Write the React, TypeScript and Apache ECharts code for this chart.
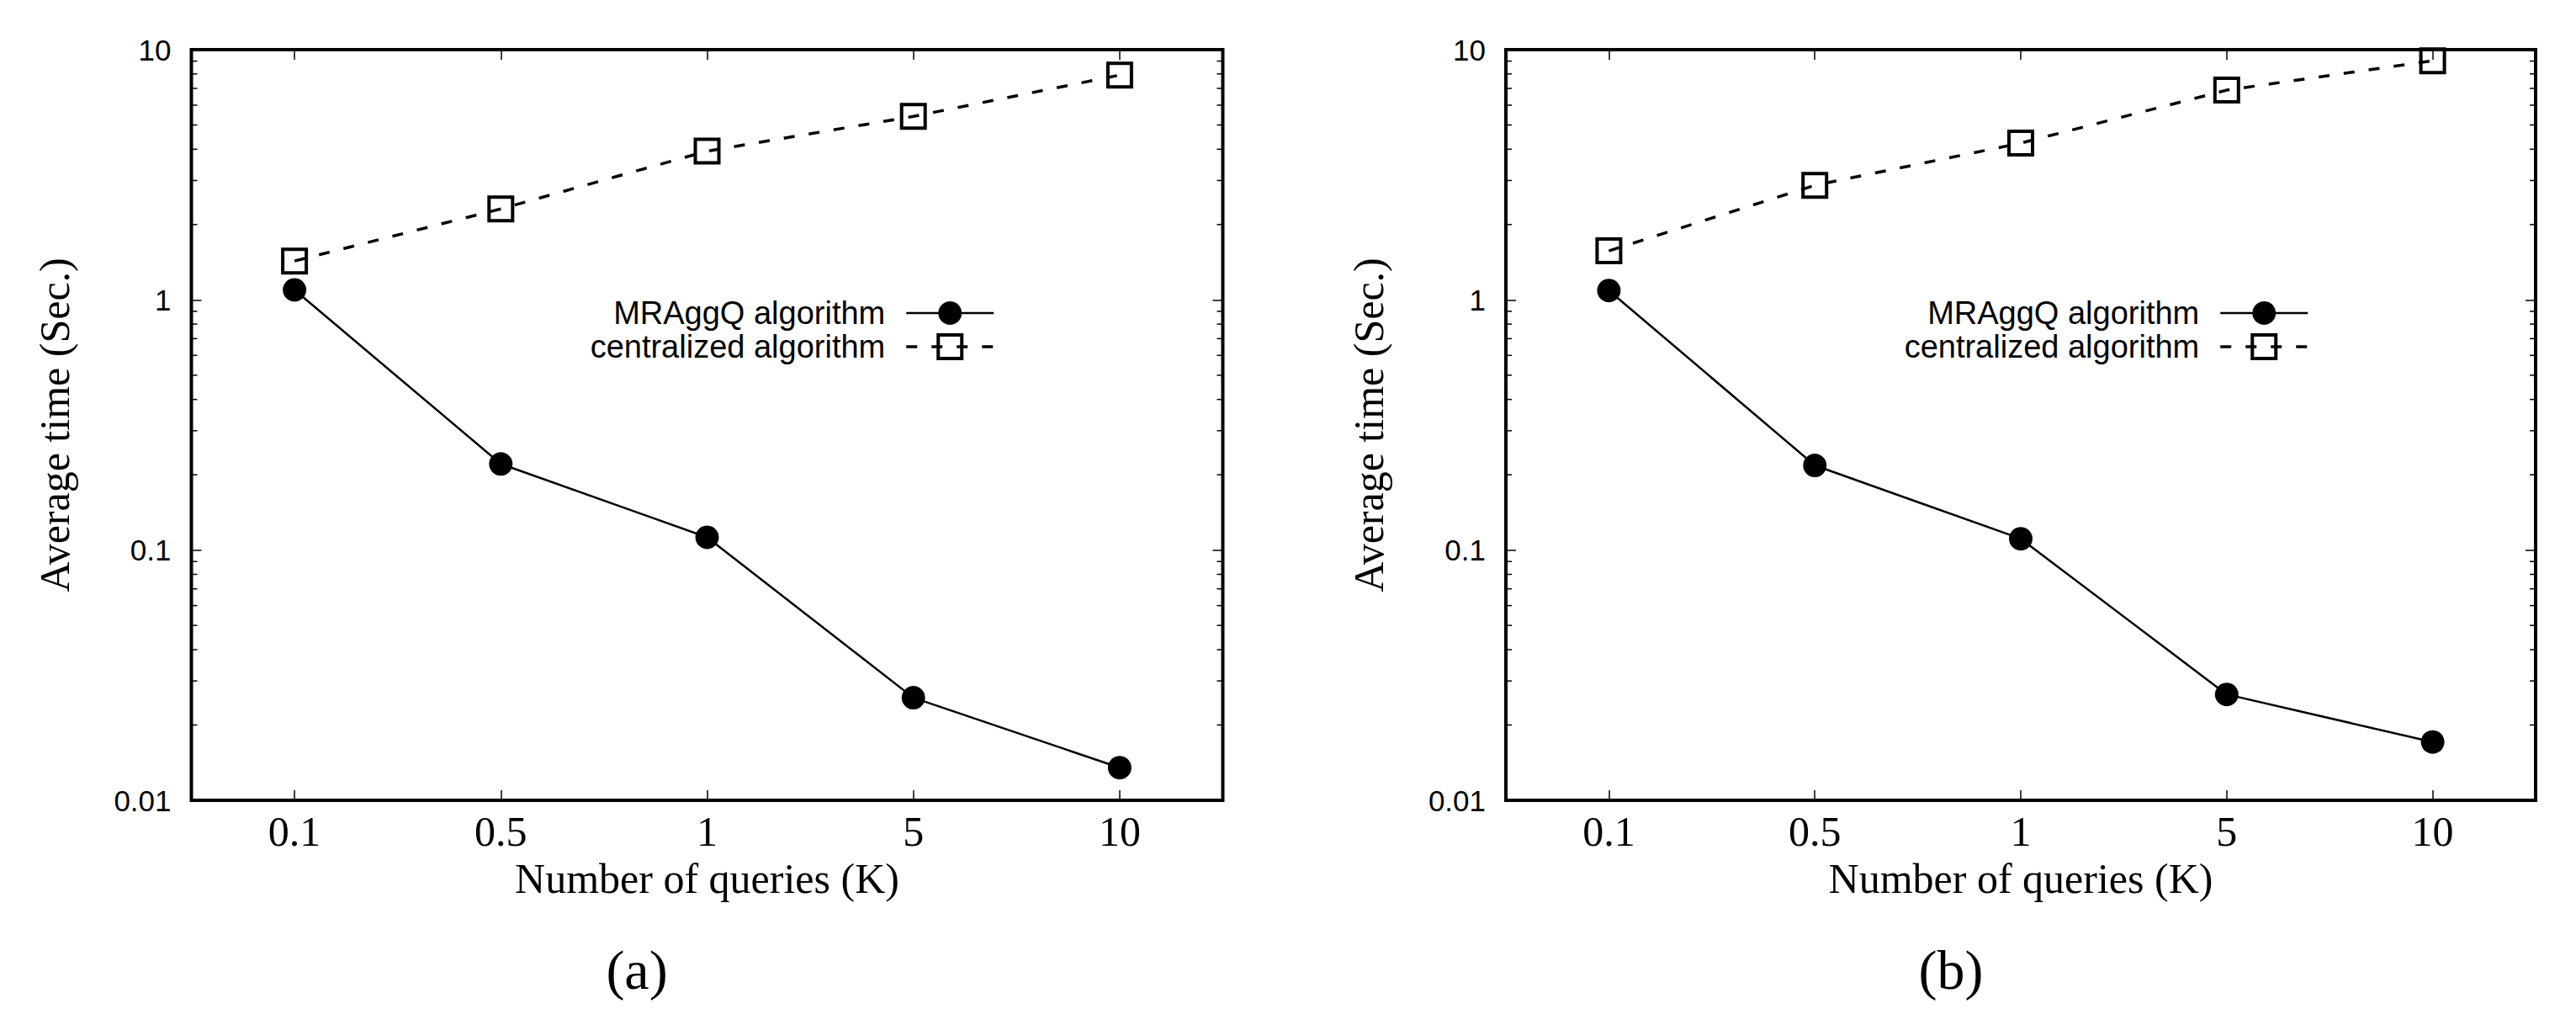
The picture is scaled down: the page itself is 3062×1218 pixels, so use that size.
import React, { useEffect, useRef } from "react";
import * as echarts from "echarts";

const categories = ["0.1", "0.5", "1", "5", "10"];
const mraggA = [1.096, 0.221, 0.1125, 0.0257, 0.0135];
const centralA = [1.43, 2.31, 3.93, 5.41, 7.91];
const mraggB = [1.09, 0.218, 0.111, 0.0265, 0.0171];
const centralB = [1.57, 2.87, 4.23, 6.89, 9.03];
const yTickLabels = ["0.01", "0.1", "1", "10"];
const minorTickValues = [
  0.02, 0.03, 0.04, 0.05, 0.06, 0.07, 0.08, 0.09,
  0.2, 0.3, 0.4, 0.5, 0.6, 0.7, 0.8, 0.9,
  2, 3, 4, 5, 6, 7, 8, 9,
];
const seriesNames = ["MRAggQ algorithm", "centralized algorithm"];
const captions = ["(a)", "(b)"];
const xTitle = "Number of queries (K)";
const yTitle = "Average time (Sec.)";

const W = 3062;
const H = 1218;
const serif = "'Liberation Serif', 'Times New Roman', serif";
const sans = "'Liberation Sans', Arial, sans-serif";

export default function App() {
  const ref = useRef<HTMLDivElement>(null);
  useEffect(() => {
    document.body.style.margin = "0";
    const chart = echarts.init(ref.current!, null, { renderer: "svg" });
    const gridDefs = [
      { left: 227.5, top: 59, width: 1226, height: 892 },
      { left: 1790, top: 59, width: 1224, height: 892 },
    ];
    const datasets = [
      [mraggA, centralA],
      [mraggB, centralB],
    ];
    const legendRight = [1188, 2750];
    const captionX = [757, 2319];

    const tick = { show: true, inside: true, alignWithLabel: true, length: 12, lineStyle: { color: "#000", width: 1.5 } };
    const xAxes: any[] = [];
    const yAxes: any[] = [];
    const series: any[] = [];
    const legends: any[] = [];
    const graphics: any[] = [];

    gridDefs.forEach((g, i) => {
      xAxes.push({
        type: "category", gridIndex: i, data: categories, boundaryGap: true, position: "bottom",
        axisLine: { show: false }, axisTick: tick,
        axisLabel: { fontFamily: serif, fontSize: 50, color: "#000", margin: 12 },
        name: xTitle, nameLocation: "middle", nameGap: 68,
        nameTextStyle: { fontFamily: serif, fontSize: 50, color: "#000" },
      });
      xAxes.push({
        type: "category", gridIndex: i, data: categories, boundaryGap: true, position: "top",
        axisLine: { show: false }, axisTick: tick, axisLabel: { show: false },
      });
      const yBase = {
        type: "log", logBase: 10, min: 0.01, max: 10, gridIndex: i,
        axisLine: { show: false },
        axisTick: { show: true, inside: true, length: 12, lineStyle: { color: "#000", width: 1.5 } },
        splitLine: { show: false },
      };
      yAxes.push({
        ...yBase, position: "left",
        axisLabel: {
          fontFamily: sans, fontSize: 35, color: "#000", margin: 24,
          formatter: (v: number) => yTickLabels[Math.round(Math.log10(v)) + 2] ?? "",
        },
        name: yTitle, nameLocation: "middle", nameGap: 138, nameRotate: 90,
        nameTextStyle: { fontFamily: serif, fontSize: 50, color: "#000" },
      });
      yAxes.push({ ...yBase, position: "right", axisLabel: { show: false } });

      series.push({
        type: "line", name: seriesNames[0], xAxisIndex: 2 * i, yAxisIndex: 2 * i,
        data: datasets[i][0], symbol: "circle", symbolSize: 28,
        itemStyle: { color: "#000" }, lineStyle: { color: "#000", width: 2.5 },
      });
      series.push({
        type: "line", name: seriesNames[1], xAxisIndex: 2 * i, yAxisIndex: 2 * i,
        data: datasets[i][1], symbol: "rect", symbolSize: 28,
        itemStyle: { color: "rgba(0,0,0,0)", borderColor: "#000", borderWidth: 4 },
        lineStyle: { color: "#000", width: 3.5, type: [13, 17] },
      });
      series.push({
        type: "custom", xAxisIndex: 2 * i, yAxisIndex: 2 * i, silent: true,
        data: minorTickValues.map((v) => [0, v]),
        renderItem: (params: any, api: any) => {
          const cs = params.coordSys;
          const y = api.coord([0, api.value(1)])[1];
          const st = { stroke: "#000", lineWidth: 1.5 };
          return {
            type: "group",
            children: [
              { type: "line", shape: { x1: cs.x, y1: y, x2: cs.x + 7, y2: y }, style: st },
              { type: "line", shape: { x1: cs.x + cs.width - 7, y1: y, x2: cs.x + cs.width, y2: y }, style: st },
            ],
          };
        },
      });
      legends.push({
        orient: "vertical", align: "right", right: W - legendRight[i], top: 348,
        itemWidth: 104, itemHeight: 35, itemGap: 2, selectedMode: false,
        data: seriesNames,
        lineStyle: { width: "inherit" },
        itemStyle: { borderWidth: "inherit" },
        textStyle: { fontFamily: sans, fontSize: 38, color: "#000", padding: [0, 20, 0, 0] },
      });
      graphics.push({
        type: "text", x: captionX[i], y: 1152,
        style: { text: captions[i], font: `66px ${serif}`, fill: "#000", textAlign: "center", textVerticalAlign: "middle" },
      });
    });

    chart.setOption({
      animation: false,
      backgroundColor: "#fff",
      grid: gridDefs.map((g) => ({ ...g, show: true, borderColor: "#000", borderWidth: 4, backgroundColor: "transparent" })),
      xAxis: xAxes,
      yAxis: yAxes,
      legend: legends,
      series,
      graphic: graphics,
    });
    return () => chart.dispose();
  }, []);
  return <div ref={ref} style={{ width: W, height: H }} />;
}
